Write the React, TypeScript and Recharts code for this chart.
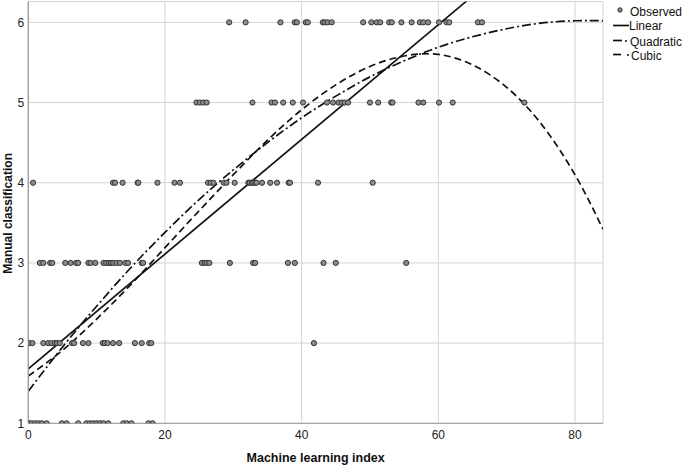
import React from 'react';
import { ComposedChart, Scatter, Line, XAxis, YAxis, CartesianGrid } from 'recharts';

const FONT = 'Arial, "Liberation Sans", sans-serif';

const xTicks = [0, 20, 40, 60, 80];
const yTicks = [1, 2, 3, 4, 5, 6];

// Machine learning index of each observed case, grouped by manual class
const classLevels = [1, 2, 3, 4, 5, 6];
const indexClass1 = [0.15, 0.5, 1.0, 1.5, 2.0, 2.7, 4.9, 5.6, 7.3, 8.5, 9.0, 9.5, 10.0, 10.5, 11.0, 11.7, 13.9, 14.4, 15.1, 17.6, 18.2];
const indexClass2 = [0.15, 0.6, 2.2, 2.9, 3.4, 3.9, 4.2, 4.6, 6.4, 6.7, 8.0, 8.8, 10.9, 11.2, 11.6, 12.4, 13.3, 15.6, 16.6, 17.7, 18.0, 41.8];
const indexClass3 = [1.7, 2.2, 3.2, 3.5, 5.4, 6.2, 7.0, 7.3, 8.8, 9.1, 9.8, 11.0, 11.4, 11.8, 12.1, 12.4, 12.9, 13.4, 14.2, 14.6, 16.6, 16.8, 25.4, 25.8, 26.1, 26.5, 29.5, 32.9, 33.2, 38.0, 39.0, 43.2, 45.0, 55.3];
const indexClass4 = [0.7, 12.4, 12.7, 13.8, 16.0, 16.1, 18.9, 21.4, 22.2, 26.3, 26.7, 27.1, 28.6, 29.0, 30.2, 32.2, 32.4, 32.7, 32.9, 33.2, 33.4, 34.2, 35.4, 36.4, 38.1, 38.3, 42.4, 50.4];
const indexClass5 = [24.6, 25.1, 25.6, 26.1, 32.8, 35.6, 36.1, 37.3, 38.7, 40.2, 43.7, 44.6, 45.4, 45.9, 46.3, 46.8, 50.0, 51.2, 53.1, 53.3, 57.1, 57.8, 60.1, 62.1, 72.6];
const indexClass6 = [29.4, 31.8, 36.9, 39.0, 39.3, 40.6, 40.9, 43.1, 43.4, 43.8, 44.4, 49.0, 50.2, 51.0, 51.5, 52.8, 53.2, 54.6, 56.1, 57.3, 57.8, 58.5, 60.1, 61.2, 61.6, 65.8, 66.4];
const indexByClass = [indexClass1, indexClass2, indexClass3, indexClass4, indexClass5, indexClass6];

// Fitted curves
const linearX = [0, 64.2];
const linearY = [1.68, 6.27];
const fitX = [0, 5, 10, 15, 20, 25, 30, 35, 40, 45, 50, 55, 60, 65, 70, 75, 80, 84.1];
const quadraticY = [1.4, 1.95, 2.46, 2.94, 3.38, 3.79, 4.16, 4.5, 4.81, 5.08, 5.32, 5.52, 5.69, 5.82, 5.92, 5.99, 6.02, 6.02];
const cubicY = [1.59, 1.91, 2.3, 2.73, 3.19, 3.65, 4.1, 4.53, 4.91, 5.22, 5.45, 5.58, 5.6, 5.47, 5.19, 4.74, 4.1, 3.42];

const observed = classLevels.flatMap((level, i) => indexByClass[i].map(x => ({ x, y: level })));
const linearData = linearX.map((x, i) => ({ x, y: linearY[i] }));
const quadraticData = fitX.map((x, i) => ({ x, y: quadraticY[i] }));
const cubicData = fitX.map((x, i) => ({ x, y: cubicY[i] }));

const DotShape = (props: any) => {
  const { cx, cy } = props;
  if (cx == null || cy == null) return null;
  return <circle cx={cx} cy={cy} r={2.6} fill="#8c8c8c" stroke="#333" strokeWidth={1} />;
};

const XLabel = ({ viewBox }: any) => (
  <text x={viewBox.x + viewBox.width / 2} y={viewBox.y + viewBox.height - 5.5} textAnchor="middle"
    fontFamily={FONT} fontSize={12.5} fontWeight="bold" fill="#111">Machine learning index</text>
);

const YLabel = ({ viewBox }: any) => {
  const cx = viewBox.x + 12.5;
  const cy = viewBox.y + viewBox.height / 2 + 1;
  return (
    <text x={cx} y={cy} transform={`rotate(-90 ${cx} ${cy})`} textAnchor="middle"
      fontFamily={FONT} fontSize={12} fontWeight="bold" fill="#111">Manual classification</text>
  );
};

const App = () => (
  <div style={{ position: 'absolute', left: 0, top: 0, width: 685, height: 467, background: '#fff' }}>
    <ComposedChart width={685} height={467} margin={{ top: 1.5, right: 82, left: 0, bottom: 0 }}>
      <CartesianGrid stroke="#d4d4d4" />
      <XAxis type="number" dataKey="x" domain={[0, 84.1]} ticks={xTicks} allowDataOverflow
        height={43.7} tickSize={5} tickMargin={2.4} tickLine={false}
        axisLine={{ stroke: '#999' }}
        tick={{ fontSize: 12, fill: '#222', fontFamily: FONT }}
        label={<XLabel />} />
      <YAxis type="number" dataKey="y" domain={[1, 6.26]} ticks={yTicks} allowDataOverflow
        width={28.3} tickSize={2} tickMargin={2} tickLine={false}
        axisLine={{ stroke: '#999', strokeWidth: 1.3 }}
        tick={{ fontSize: 12, fill: '#222', fontFamily: FONT }}
        label={<YLabel />} />
      <Scatter data={observed} shape={DotShape} isAnimationActive={false} />
      <Line data={linearData} dataKey="y" type="linear" stroke="#111" strokeWidth={1.7}
        dot={false} activeDot={false} isAnimationActive={false} />
      <Line data={quadraticData} dataKey="y" type="natural" stroke="#111" strokeWidth={1.7}
        strokeDasharray="9 3 2 3" dot={false} activeDot={false} isAnimationActive={false} />
      <Line data={cubicData} dataKey="y" type="natural" stroke="#111" strokeWidth={1.7}
        strokeDasharray="7 4" dot={false} activeDot={false} isAnimationActive={false} />
    </ComposedChart>

    {/* Legend, top right */}
    <svg width={85} height={66} style={{ position: 'absolute', left: 600, top: 0 }}>
      <g fontFamily={FONT} fontSize={12} fill="#111">
        <circle cx={20} cy={10} r={2.2} fill="#8c8c8c" stroke="#333" strokeWidth={1} />
        <text x={30} y={16}>Observed</text>
        <line x1={13} y1={25.5} x2={29} y2={25.5} stroke="#111" strokeWidth={1.7} />
        <text x={29} y={30}>Linear</text>
        <line x1={13} y1={40.5} x2={22} y2={40.5} stroke="#111" strokeWidth={1.7} />
        <line x1={25} y1={41} x2={27} y2={41} stroke="#111" strokeWidth={1.7} />
        <text x={30} y={45.5}>Quadratic</text>
        <line x1={13} y1={54.5} x2={21} y2={54.5} stroke="#111" strokeWidth={1.7} />
        <line x1={27} y1={55} x2={29} y2={55} stroke="#111" strokeWidth={1.7} />
        <text x={31} y={59.5}>Cubic</text>
      </g>
    </svg>
  </div>
);

export default App;
